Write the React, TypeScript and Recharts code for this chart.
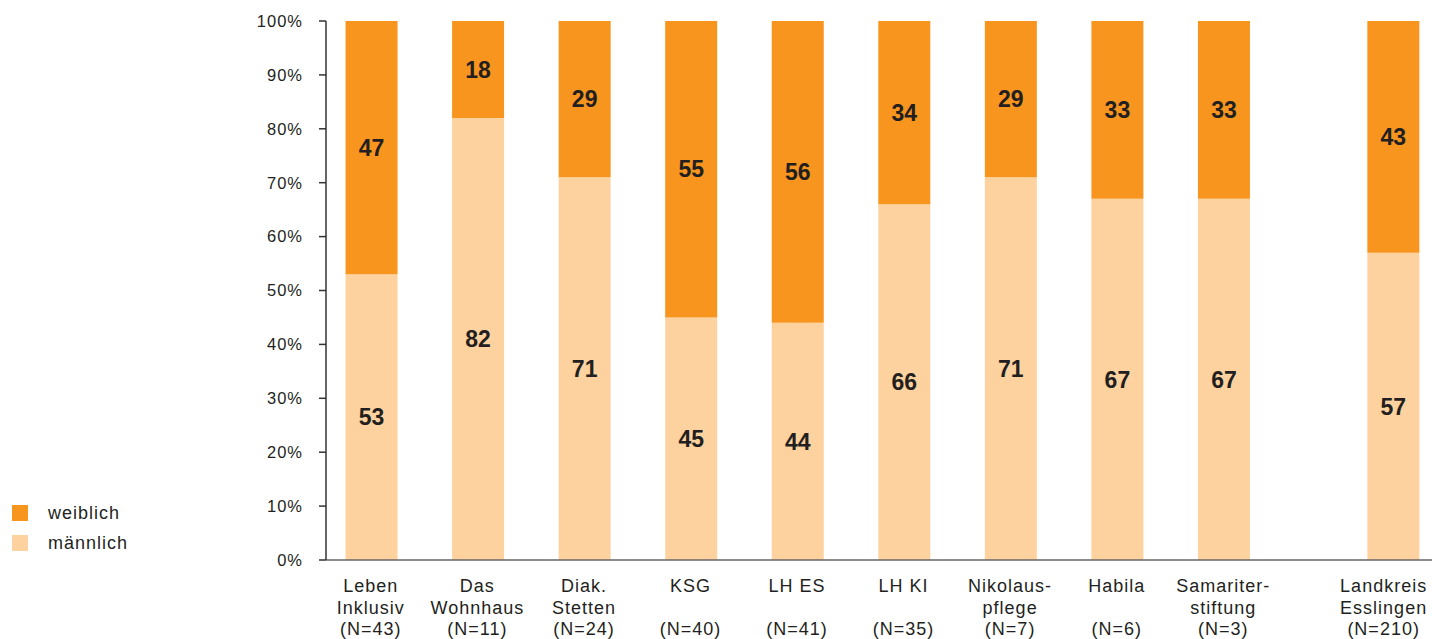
import React from 'react'
import { BarChart, Bar, XAxis, YAxis, LabelList } from 'recharts'

const categories = [
  'Leben\nInklusiv',
  'Das\nWohnhaus',
  'Diak.\nStetten',
  'KSG',
  'LH ES',
  'LH KI',
  'Nikolaus-\npflege',
  'Habila',
  'Samariter-\nstiftung',
  'Landkreis\nEsslingen',
]
const sampleSizes = [43, 11, 24, 40, 41, 35, 7, 6, 3, 210]
const weiblich = [47, 18, 29, 55, 56, 34, 29, 33, 33, 43]
const maennlich = [53, 82, 71, 45, 44, 66, 71, 67, 67, 57]
const yTicks = [0, 10, 20, 30, 40, 50, 60, 70, 80, 90, 100]

const ORANGE = '#F7951F'
const LIGHT = '#FDD29E'
const TEXT = '#231f20'
const FONT = '"Liberation Sans", Arial, sans-serif'

// the county total sits a bit apart from the providers
const SUMMARY_GAP = 0.59

const data = categories.map((name, i) => ({
  pos: i + (i === categories.length - 1 ? SUMMARY_GAP : 0),
  name,
  n: sampleSizes[i],
  weiblich: weiblich[i],
  maennlich: maennlich[i],
}))
const positions = data.map((d) => d.pos)

const XTick = ({ x, y, payload }: any) => {
  const idx = data.findIndex((d) => d.pos === payload.value)
  if (idx < 0) return null
  const row = data[idx]
  const lines = row.name.split('\n')
  // last label would run off the right edge, nudge it in
  const cx = (idx === data.length - 1 ? x - 9 : x) - 1
  return (
    <text
      textAnchor="middle"
      fill={TEXT}
      style={{ fontSize: 18, fontFamily: FONT, letterSpacing: 1 }}
    >
      {lines.map((l: string, k: number) => (
        <tspan key={k} x={cx} y={y + 32 + k * 22}>
          {l}
        </tspan>
      ))}
      <tspan x={cx} y={y + 75}>{`(N=${row.n})`}</tspan>
    </text>
  )
}

const legendItems = [
  { label: 'weiblich', color: ORANGE },
  { label: 'männlich', color: LIGHT },
]

export default function App() {
  return (
    <div style={{ position: 'absolute', left: 0, top: 0, width: 1432, height: 639, background: '#fff' }}>
      <BarChart
        width={1432}
        height={639}
        data={data}
        margin={{ top: 21, right: 0, bottom: 0, left: 0 }}
      >
        <XAxis
          dataKey="pos"
          type="number"
          scale="linear"
          domain={[-0.43, 9.95]}
          ticks={positions}
          interval={0}
          tick={<XTick />}
          tickLine={false}
          tickSize={0}
          tickMargin={0}
          axisLine={{ stroke: '#666', strokeWidth: 1.5 }}
          height={79}
        />
        <YAxis
          type="number"
          domain={[0, 100]}
          ticks={yTicks}
          interval={0}
          width={326}
          tickFormatter={(v) => `${v}%`}
          tick={{ fill: TEXT, fontSize: 16.5, fontFamily: FONT, letterSpacing: 1 }}
          tickSize={7}
          tickMargin={16}
          tickLine={{ stroke: '#333', strokeWidth: 1.5 }}
          axisLine={{ stroke: '#333', strokeWidth: 1.5 }}
        />
        <Bar dataKey="maennlich" stackId="a" fill={LIGHT} barSize={52} isAnimationActive={false}>
          <LabelList
            dataKey="maennlich"
            position="center"
            fill={TEXT}
            style={{ fontSize: 23, fontWeight: 'bold', fontFamily: FONT }}
          />
        </Bar>
        <Bar dataKey="weiblich" stackId="a" fill={ORANGE} barSize={52} isAnimationActive={false}>
          <LabelList
            dataKey="weiblich"
            position="center"
            fill={TEXT}
            style={{ fontSize: 23, fontWeight: 'bold', fontFamily: FONT }}
          />
        </Bar>
      </BarChart>
      <div style={{ position: 'absolute', left: 12, top: 505, fontFamily: FONT }}>
        {legendItems.map((it) => (
          <div key={it.label} style={{ display: 'flex', alignItems: 'center', height: 16, marginBottom: 14 }}>
            <span style={{ width: 16, height: 16, background: it.color, display: 'inline-block' }} />
            <span style={{ marginLeft: 20, fontSize: 18, letterSpacing: 1, color: TEXT }}>{it.label}</span>
          </div>
        ))}
      </div>
    </div>
  )
}
